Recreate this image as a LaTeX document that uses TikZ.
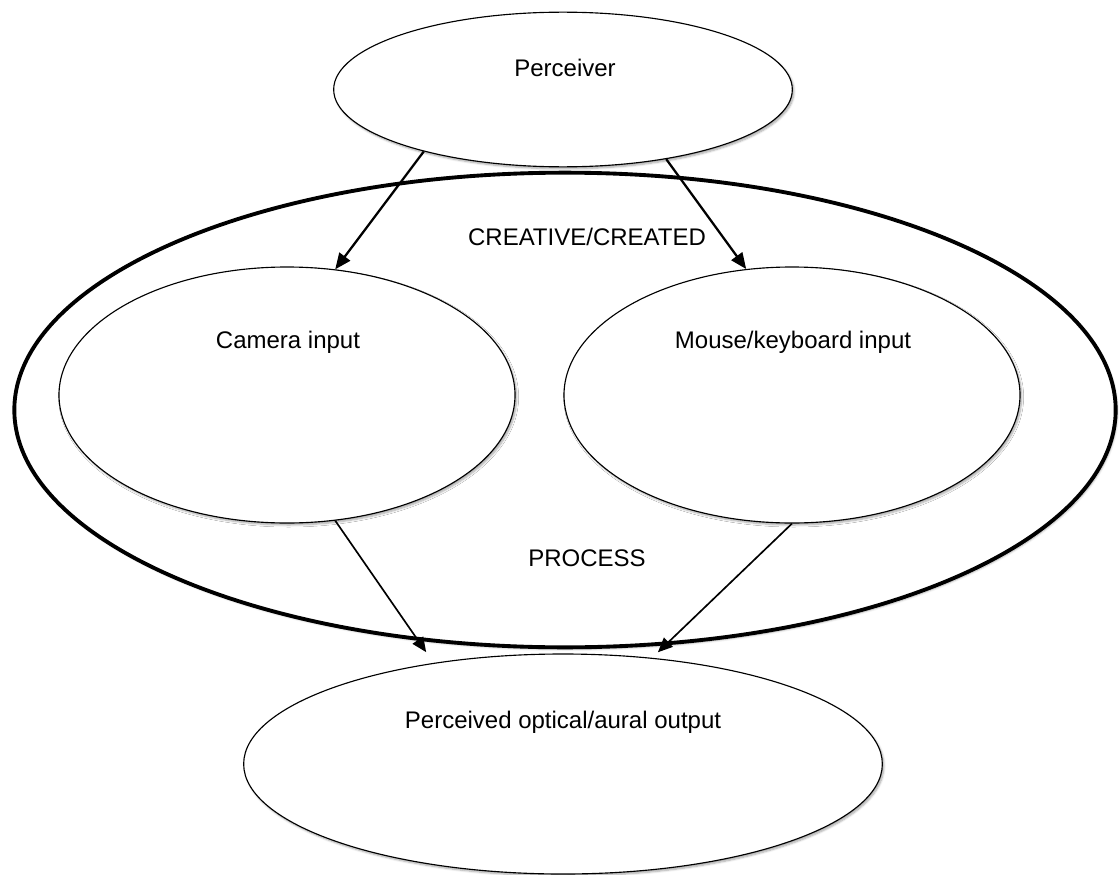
\documentclass[tikz,border=0pt]{standalone}
\usepackage{fontspec}
\setmainfont{Liberation Sans}
\usetikzlibrary{shapes.geometric,arrows.meta,shadows.blur}
\begin{document}
\begin{tikzpicture}[x=0.75pt,y=-0.75pt,
  oval/.style={draw, ellipse, fill=white, line width=0.85pt, inner sep=0pt,
    blur shadow={shadow xshift=1.2pt, shadow yshift=-1.5pt, shadow blur steps=6,
                 shadow opacity=35, shadow blur radius=1.5pt}},
  frame/.style={draw, ellipse, fill=white, line width=2.9pt, inner sep=0pt,
    blur shadow={shadow xshift=1.2pt, shadow yshift=-1.5pt, shadow blur steps=6,
                 shadow opacity=30, shadow blur radius=1.5pt}},
  lbl/.style={font=\fontsize{18}{22}\selectfont, anchor=base, inner sep=0pt},
  toparrow/.style={line width=1.7pt, -{Triangle[length=12pt,width=10pt]}},
  botarrow/.style={line width=1.25pt, -{Triangle[length=11pt,width=9.5pt]}},
]
\useasboundingbox (0,0) rectangle (1120,874);

% enclosing process ellipse
\node[frame, minimum width=826pt, minimum height=356pt] (proc) at (565,410) {};

% stages
\node[oval, minimum width=344pt, minimum height=116pt]   (perc)  at (563,89.5) {};
\node[oval, minimum width=342pt, minimum height=192pt]   (cam)   at (287,395)  {};
\node[oval, minimum width=342pt, minimum height=192pt]   (mouse) at (792,395)  {};
\node[oval, minimum width=479pt, minimum height=165pt]   (bot)   at (563,764)  {};

% labels
\node[lbl] (percT) at (565,76.5)  {Perceiver};
\node[lbl] (creT)  at (587,245.5) {CREATIVE/CREATED};
\node[lbl] (camT)  at (288,348.5) {Camera input};
\node[lbl] (mouT)  at (793,348.5) {Mouse/keyboard input};
\node[lbl] (proT)  at (587,566.5) {PROCESS};
\node[lbl] (botT)  at (563,728.5) {Perceived optical/aural output};

% connectors
\draw[toparrow] (perc.204) -- (cam.69);
\draw[toparrow] (perc.326) -- (mouse.110);
\draw[botarrow, shorten >=9.8pt] (cam.291) -- (bot.142);
\draw[botarrow, shorten >=6pt] (mouse.270) -- (bot.50);
\end{tikzpicture}
\end{document}
